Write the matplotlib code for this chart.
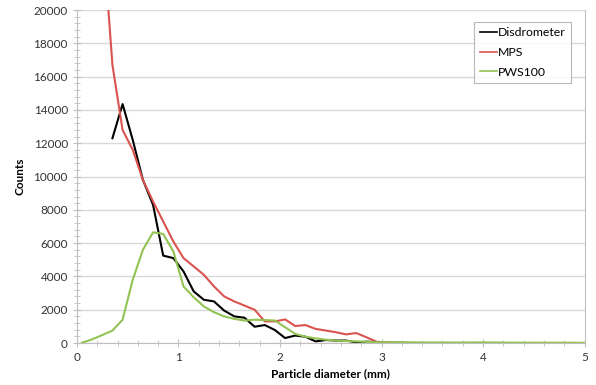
import numpy as np
import matplotlib.pyplot as plt
from matplotlib.ticker import MultipleLocator

plt.rcParams['font.family'] = ['Lato', 'DejaVu Sans']

# particle diameter bins (mm)
disd_x = [0.35, 0.45, 0.55, 0.65, 0.75, 0.85, 0.95, 1.05, 1.15, 1.25, 1.35, 1.45, 1.55, 1.65, 1.75,
          1.85, 1.95, 2.05, 2.15, 2.25, 2.35, 2.45, 2.55, 2.65, 2.75, 2.85, 2.95, 3.05, 3.15, 3.25, 3.35]
disd_y = [12300, 14350, 12200, 9800, 8300, 5250, 5100, 4300, 3100, 2600, 2500, 1950, 1600, 1520, 980,
          1080, 780, 300, 450, 380, 100, 180, 150, 150, 40, 80, 60, 20, 10, 5, 0]

mps_x = [0.25, 0.35, 0.45, 0.55, 0.65, 0.75, 0.85, 0.95, 1.05, 1.15, 1.25, 1.35, 1.45, 1.55, 1.65, 1.75,
         1.85, 1.95, 2.05, 2.15, 2.25, 2.35, 2.45, 2.55, 2.65, 2.75, 2.85, 2.95, 3.05, 3.15, 3.25, 3.35]
mps_y = [25000, 16700, 12800, 11600, 9800, 8500, 7300, 6100, 5100, 4600, 4100, 3400, 2800, 2500, 2250, 2000,
         1300, 1300, 1420, 1020, 1080, 850, 750, 650, 520, 600, 350, 80, 30, 15, 8, 0]

pws_x = [0.05, 0.15, 0.25, 0.35, 0.45, 0.55, 0.65, 0.75, 0.85, 0.95, 1.05, 1.15, 1.25, 1.35, 1.45, 1.55,
         1.65, 1.75, 1.85, 1.95, 2.05, 2.15, 2.25, 2.35, 2.45, 2.55, 2.65, 2.75, 2.85, 2.95, 3.25, 3.5,
         3.75, 4.0, 4.25, 4.5, 4.75, 5.0]
pws_y = [20, 220, 480, 750, 1400, 3800, 5600, 6650, 6550, 5500, 3400, 2750, 2200, 1850, 1600, 1450,
         1350, 1400, 1380, 1350, 950, 550, 380, 280, 200, 150, 120, 100, 70, 50, 40, 35,
         30, 40, 25, 20, 20, 15]

fig = plt.figure(figsize=(5.96, 3.85), dpi=100)
ax = fig.add_axes([0.129, 0.109, 0.852, 0.865])

ax.plot(disd_x, disd_y, color='black', lw=1.5, label='Disdrometer')
ax.plot(mps_x, mps_y, color='#d9534f', lw=1.5, label='MPS')
ax.plot(pws_x, pws_y, color='#92c353', lw=1.5, label='PWS100')

ax.set_xlim(0, 5)
ax.set_ylim(0, 20000)
ax.xaxis.set_major_locator(MultipleLocator(1))
ax.xaxis.set_minor_locator(MultipleLocator(0.2))
ax.yaxis.set_major_locator(MultipleLocator(2000))
ax.yaxis.set_minor_locator(MultipleLocator(400))

ax.grid(axis='y', which='major', color='#d9d9d9', lw=1)
ax.set_axisbelow(True)
for s in ['left', 'bottom', 'right']:
    ax.spines[s].set_color('#bfbfbf')
ax.spines['top'].set_visible(False)

ax.tick_params(which='major', direction='inout', length=6, color='#bfbfbf', labelsize=8.5, labelcolor='#333333')
ax.tick_params(which='minor', direction='inout', length=4, color='#bfbfbf')
ax.tick_params(axis='y', which='both', right=False)

ax.set_xlabel('Particle diameter (mm)', fontsize=8.5, fontweight='bold', labelpad=4)
ax.set_ylabel('Counts', fontsize=8.5, fontweight='bold', labelpad=6)

leg = ax.legend(loc='upper right', bbox_to_anchor=(0.974, 0.964), borderaxespad=0, fontsize=8.8,
                frameon=True, fancybox=False, edgecolor='#a6a6a6', handlelength=1.4,
                handletextpad=0.1, borderpad=0.45, labelspacing=0.7)
leg.get_frame().set_linewidth(0.8)
for line in leg.get_lines():
    line.set_linewidth(1.2)

fig.savefig('out.png', dpi=100)
